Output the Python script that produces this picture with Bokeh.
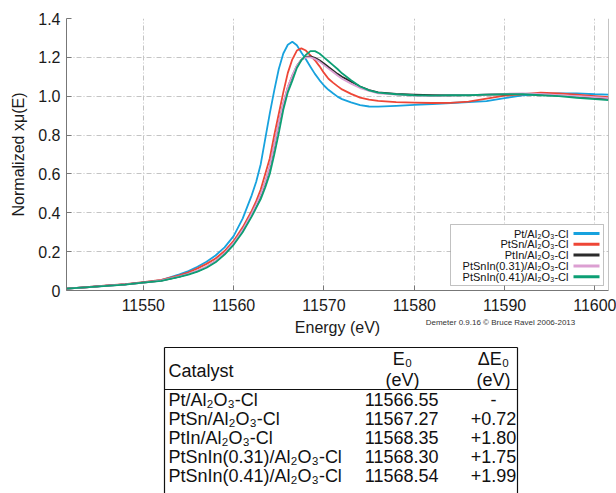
from bokeh.plotting import figure
from bokeh.models import Range1d, Label, BoxAnnotation, Arrow, Span, CustomJSTickFormatter
from bokeh.layouts import column
from bokeh.embed import file_html
from bokeh.resources import INLINE
from bokeh.core.properties import value

# ---------------- data ----------------
energy = [11541.5, 11544, 11546, 11548, 11550, 11552, 11554, 11555, 11556, 11557,
          11558, 11559, 11560, 11561, 11562, 11562.5, 11563, 11563.5, 11564, 11564.5,
          11565, 11565.5, 11566, 11566.5, 11567, 11567.5, 11568, 11568.5, 11569, 11569.5,
          11570, 11570.5, 11571, 11571.5, 11572, 11573, 11574, 11575, 11576, 11578,
          11580, 11582, 11584, 11586, 11588, 11590, 11592, 11594, 11596, 11598,
          11600, 11601.5]

pt = [0.010, 0.018, 0.025, 0.032, 0.042, 0.053, 0.083, 0.100, 0.122, 0.148,
      0.180, 0.222, 0.280, 0.370, 0.490, 0.560, 0.650, 0.780, 0.910, 1.030,
      1.140, 1.220, 1.265, 1.280, 1.262, 1.225, 1.190, 1.152, 1.115, 1.083,
      1.055, 1.033, 1.015, 0.998, 0.985, 0.968, 0.954, 0.947, 0.946, 0.950,
      0.955, 0.960, 0.965, 0.970, 0.975, 0.990, 1.005, 1.010, 1.015, 1.015,
      1.010, 1.008]

ptsn = [0.010, 0.018, 0.026, 0.033, 0.043, 0.055, 0.078, 0.094, 0.114, 0.137,
        0.165, 0.203, 0.255, 0.325, 0.410, 0.460, 0.520, 0.600, 0.680, 0.800,
        0.910, 1.020, 1.120, 1.190, 1.235, 1.246, 1.235, 1.210, 1.185, 1.155,
        1.120, 1.090, 1.070, 1.052, 1.035, 1.012, 0.993, 0.983, 0.976, 0.970,
        0.967, 0.965, 0.966, 0.972, 0.988, 1.003, 1.010, 1.018, 1.015, 1.008,
        1.000, 0.995]

ptin = [0.010, 0.017, 0.025, 0.031, 0.041, 0.051, 0.072, 0.085, 0.100, 0.121,
        0.150, 0.190, 0.243, 0.310, 0.392, 0.440, 0.490, 0.555, 0.635, 0.745,
        0.860, 0.960, 1.045, 1.105, 1.155, 1.188, 1.203, 1.205, 1.198, 1.185,
        1.168, 1.150, 1.133, 1.115, 1.100, 1.075, 1.050, 1.032, 1.020, 1.012,
        1.008, 1.005, 1.005, 1.006, 1.008, 1.010, 1.012, 1.008, 1.003, 0.998,
        0.992, 0.988]

ptsnin031 = [0.010, 0.017, 0.025, 0.031, 0.041, 0.052, 0.073, 0.086, 0.102, 0.123,
             0.152, 0.192, 0.245, 0.312, 0.395, 0.443, 0.495, 0.560, 0.640, 0.750,
             0.865, 0.965, 1.048, 1.108, 1.157, 1.188, 1.200, 1.200, 1.192, 1.178,
             1.160, 1.142, 1.125, 1.107, 1.090, 1.065, 1.042, 1.027, 1.015, 1.008,
             1.003, 1.002, 1.004, 1.006, 1.008, 1.012, 1.015, 1.012, 1.006, 1.000,
             0.995, 0.990]

ptsnin041 = [0.010, 0.017, 0.024, 0.030, 0.040, 0.050, 0.070, 0.082, 0.097, 0.117,
             0.145, 0.185, 0.235, 0.300, 0.380, 0.425, 0.470, 0.530, 0.600, 0.700,
             0.810, 0.930, 1.020, 1.080, 1.145, 1.185, 1.213, 1.232, 1.232, 1.220,
             1.200, 1.180, 1.160, 1.140, 1.118, 1.082, 1.050, 1.030, 1.018, 1.010,
             1.005, 1.003, 1.005, 1.005, 1.008, 1.010, 1.010, 1.005, 1.000, 0.992,
             0.985, 0.980]

series = [pt, ptsn, ptin, ptsnin031, ptsnin041]
series_names = ["Pt/Al\u2082O\u2083-Cl", "PtSn/Al\u2082O\u2083-Cl", "PtIn/Al\u2082O\u2083-Cl",
                "PtSnIn(0.31)/Al\u2082O\u2083-Cl", "PtSnIn(0.41)/Al\u2082O\u2083-Cl"]
series_colors = ["#17a2de", "#ee4636", "#2b2b2b", "#dc9fd2", "#0c9f74"]

x_ticks = [11550, 11560, 11570, 11580, 11590, 11600]
y_ticks = [0, 0.2, 0.4, 0.6, 0.8, 1.0, 1.2, 1.4]

table_e0 = ["11566.55", "11567.27", "11568.35", "11568.30", "11568.54"]
table_de0 = ["-", "+0.72", "+1.80", "+1.75", "+1.99"]

for s in series:
    assert len(s) == len(energy)

FONT = "Liberation Sans"
X_START, X_END = 11541.5, 11601.5

# ---------------- plot ----------------
p = figure(width=616, height=318, x_range=Range1d(X_START, X_END), y_range=Range1d(0, 1.4),
           output_backend="svg", toolbar_location=None,
           min_border_left=66, min_border_right=8, min_border_top=18, min_border_bottom=28,
           y_axis_label="Normalized x\u03bc(E)")
p.outline_line_color = None
p.background_fill_color = "white"

p.xaxis.ticker = x_ticks
p.yaxis.ticker = y_ticks
p.yaxis.formatter = CustomJSTickFormatter(code="return tick == 0 ? '0' : tick.toFixed(1);")
for ax in (p.xaxis[0], p.yaxis[0]):
    ax.axis_line_color = "#777777"
    ax.major_tick_line_color = "#777777"
    ax.major_tick_in = 5
    ax.major_tick_out = 0
    ax.minor_tick_line_color = None
    ax.major_label_text_font = FONT
    ax.major_label_text_font_size = "16px"
    ax.major_label_text_color = "#1a1a1a"
    ax.axis_label_text_font = FONT
    ax.axis_label_text_font_size = "16px"
    ax.axis_label_text_font_style = "normal"
    ax.axis_label_text_color = "#1a1a1a"
p.xaxis.major_label_standoff = 8
p.yaxis.major_label_standoff = 6
p.yaxis.axis_label_standoff = 8

# right border of the frame
p.add_layout(Span(location=X_END, dimension="height", line_color="#888888", line_width=1))

for g in (p.xgrid[0], p.ygrid[0]):
    g.grid_line_color = "#c4c4c4"
    g.grid_line_dash = "5 2 1 2"
    g.grid_line_width = 1

for ys, c in zip(series, series_colors):
    p.line(energy, ys, line_color=c, line_width=1.8, line_join="round")

# legend (drawn manually: labels right-aligned, samples on the right)
p.add_layout(BoxAnnotation(left=384, right=537, bottom=5, top=66,
                           left_units="screen", right_units="screen",
                           top_units="screen", bottom_units="screen",
                           fill_color="white", fill_alpha=1.0,
                           line_color="#333333", line_width=1, level="annotation"))
leg_top = 57
leg_step = 10.8
for i, (name, c) in enumerate(zip(series_names, series_colors)):
    yy = leg_top - i * leg_step
    p.add_layout(Label(x=502, y=yy, x_units="screen", y_units="screen", text=name,
                       text_align="right", text_baseline="middle",
                       text_font=FONT, text_font_size="11px", text_color="#111111"))
    p.add_layout(Arrow(end=None, x_start=507, y_start=yy, x_end=533, y_end=yy,
                       start_units="screen", end_units="screen",
                       line_color=c, line_width=3))

# ---------------- axis title, credit and table ----------------
# this figure's coordinates are pixels: x from the page left, y from its own top
TOP0 = 318
t = figure(width=616, height=493 - TOP0, x_range=Range1d(66, 608), y_range=Range1d(493 - TOP0, 0),
           output_backend="svg", toolbar_location=None,
           x_axis_location=None, y_axis_location=None,
           min_border_left=66, min_border_right=8, min_border_top=0, min_border_bottom=0)
t.outline_line_color = None
t.grid.visible = False

t.text(x=[337], y=[327 - TOP0], text=["Energy (eV)"], text_align="center", text_baseline="middle",
       text_font=value(FONT), text_font_size="16px", text_color="#1a1a1a")
t.text(x=[500], y=[322 - TOP0], text=["Demeter 0.9.16 \u00a9 Bruce Ravel 2006-2013"],
       text_align="center", text_baseline="middle",
       text_font=value(FONT), text_font_size="8px", text_color="#333333")

TL, TR, TT, HL = 164, 517, 347 - TOP0, 389 - TOP0
ROW0, ROW_H = 399 - TOP0, 19
FS = "18px"
t.segment(x0=[TL, TL, TR, TL], y0=[TT, TT, TT, HL], x1=[TR, TL, TR, TR], y1=[TT, 200, 200, HL],
          line_color="#111111", line_width=1.2)

txt = dict(text_font=value(FONT), text_font_size=FS, text_color="#111111", text_baseline="middle")
t.text(x=[TL + 4], y=[370 - TOP0], text=["Catalyst"], text_align="left", **txt)
t.text(x=[402, 402], y=[358 - TOP0, 379 - TOP0], text=["E\u2080", "(eV)"], text_align="center", **txt)
t.text(x=[493, 493], y=[358 - TOP0, 379 - TOP0], text=["\u0394E\u2080", "(eV)"], text_align="center", **txt)

row_y = [ROW0 + i * ROW_H for i in range(len(series_names))]
t.text(x=[TL + 4] * len(row_y), y=row_y, text=series_names, text_align="left", **txt)
t.text(x=[438] * len(row_y), y=row_y, text=table_e0, text_align="right", **txt)
t.text(x=[493] * len(row_y), y=row_y, text=table_de0, text_align="center", **txt)

layout = column(p, t)
open("out.html", "w").write(file_html(layout, INLINE))
